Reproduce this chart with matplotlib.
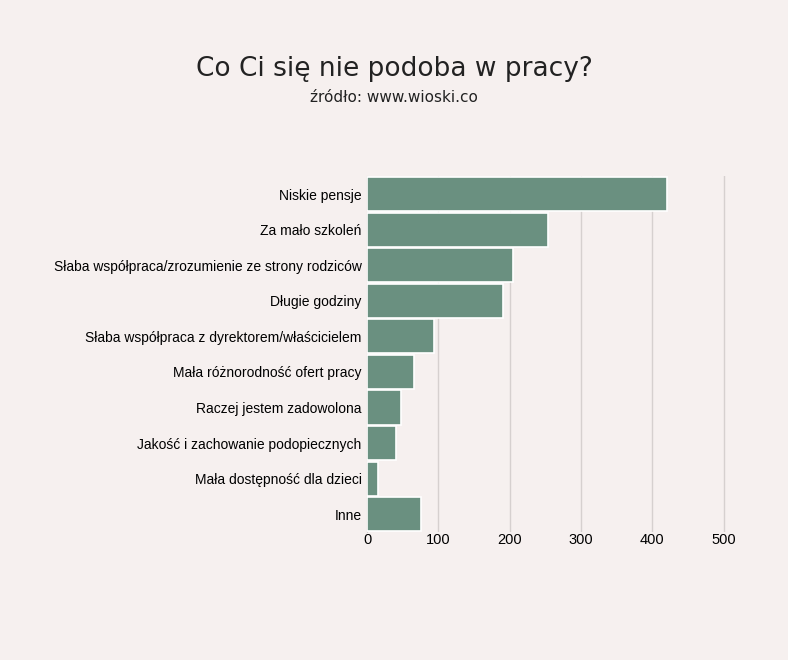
import matplotlib.pyplot as plt
import matplotlib

matplotlib.rcParams['font.family'] = ['Liberation Sans', 'DejaVu Sans']

categories = ['Niskie pensje', 'Za mało szkoleń',
              'Słaba współpraca/zrozumienie ze strony rodziców', 'Długie godziny',
              'Słaba współpraca z dyrektorem/właścicielem', 'Mała różnorodność ofert pracy',
              'Raczej jestem zadowolona', 'Jakość i zachowanie podopiecznych',
              'Mała dostępność dla dzieci', 'Inne']
values = [420, 253, 205, 190, 94, 66, 48, 41, 15, 76]
ticks = [0, 100, 200, 300, 400, 500]

bg = '#f6f0ef'
fig = plt.figure(figsize=(7.88, 6.6), dpi=100, facecolor=bg)
ax = fig.add_axes([0.466, 0.194, 0.474, 0.539], facecolor=bg)

y = range(len(categories))
ax.barh(y, values, height=0.96, color='#6a9080', edgecolor='white', linewidth=1.2, zorder=3)
ax.set_ylim(len(categories) - 0.5, -0.5)
ax.set_xlim(0, 524)
ax.set_yticks(list(y))
ax.set_yticklabels(categories, fontsize=10)
ax.set_xticks(ticks)
ax.set_xticklabels([str(t) for t in ticks], fontsize=10.5)
ax.tick_params(axis='x', length=0, pad=1)
ax.tick_params(axis='y', length=0, pad=4)
ax.grid(axis='x', color='#d6d0cf', linewidth=1, zorder=0)
for s in ['top', 'right', 'bottom']:
    ax.spines[s].set_visible(False)
ax.spines['left'].set_color('#d6d0cf')

fig.text(0.5, 0.885, 'Co Ci się nie podoba w pracy?', ha='center', fontsize=19,
         fontfamily=['Liberation Sans Narrow', 'DejaVu Sans'], color='#222222')
fig.text(0.5, 0.845, 'źródło: www.wioski.co', ha='center', fontsize=11,
         fontfamily=['Liberation Sans Narrow', 'DejaVu Sans'], color='#222222')

fig.savefig('out.png', dpi=100, facecolor=bg)
